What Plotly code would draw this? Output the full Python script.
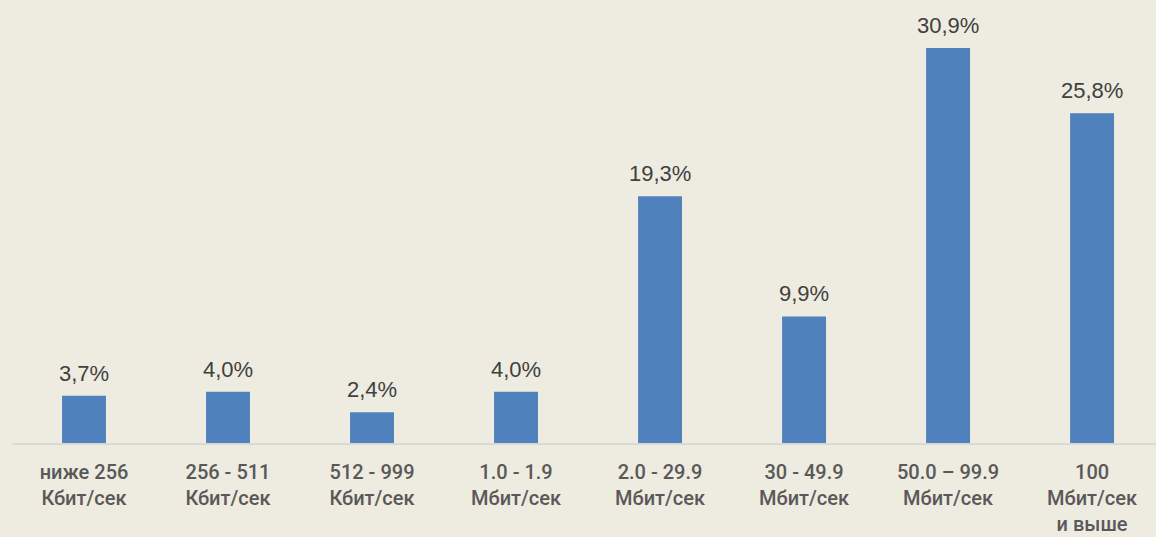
import plotly.graph_objects as go

categories = ["ниже 256<br>Кбит/сек", "256 - 511<br>Кбит/сек", "512 - 999<br>Кбит/сек",
              "1.0 - 1.9<br>Мбит/сек", "2.0 - 29.9<br>Мбит/сек", "30 - 49.9<br>Мбит/сек",
              "50.0 – 99.9<br>Мбит/сек", "100<br>Мбит/сек<br>и выше"]
values = [3.7, 4.0, 2.4, 4.0, 19.3, 9.9, 30.9, 25.8]
labels = [f"{v:.1f}%".replace(".", ",") for v in values]

BG = "#EEEBE0"
fig = go.Figure()
fig.add_trace(go.Bar(x=list(range(len(values))), y=values, width=0.305,
                     marker=dict(color="#4F81BD", line=dict(width=0)),
                     hoverinfo="skip"))
for i, (v, t) in enumerate(zip(values, labels)):
    fig.add_annotation(x=i, y=v, text=t, showarrow=False, yanchor="bottom", yshift=8,
                       font=dict(family="Liberation Sans, Arial, sans-serif", size=22, color="#404040"))

fig.update_layout(
    width=1156, height=537,
    paper_bgcolor=BG, plot_bgcolor=BG,
    margin=dict(l=12, r=0, t=0, b=94),
    showlegend=False,
    xaxis=dict(tickmode="array", tickvals=list(range(len(values))), ticktext=categories,
               range=[-0.5, 7.444], showgrid=False, zeroline=False, automargin=False,
               showline=True, linecolor="#D9D9D9", linewidth=2,
               ticks="outside", ticklen=10, tickcolor=BG,
               tickfont=dict(family="Roboto, Liberation Sans, sans-serif", size=20, color="#595959", weight=500)),
    yaxis=dict(range=[0, 34.66], visible=False, showgrid=False, zeroline=False, automargin=False),
)
fig.write_html("out.html", config={"displayModeBar": False},
               post_script="document.body.style.margin='0';")
